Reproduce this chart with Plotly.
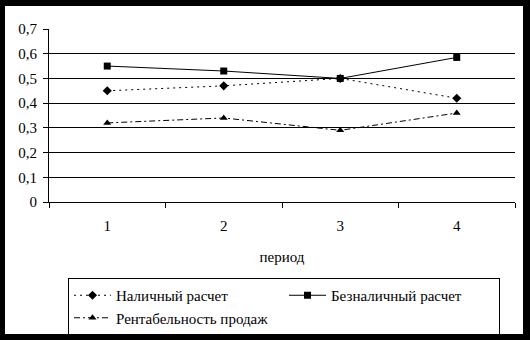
import plotly.graph_objects as go

periods = ["1", "2", "3", "4"]
cash = [0.45, 0.47, 0.50, 0.42]
noncash = [0.55, 0.53, 0.50, 0.585]
profit = [0.32, 0.34, 0.29, 0.36]
names = ["Наличный расчет", "Безналичный расчет", "Рентабельность продаж"]
ytick_vals = [0, 0.1, 0.2, 0.3, 0.4, 0.5, 0.6, 0.7]
ytick_text = ["0", "0,1", "0,2", "0,3", "0,4", "0,5", "0,6", "0,7"]
grid_vals = [0.1, 0.2, 0.3, 0.4, 0.5, 0.6]

W, H = 530, 340
L, R, T, B = 49, 15, 29, 138
pw, ph = W - L - R, H - T - B

def px_x(p):
    return (p - L) / pw

def px_y(p):
    return (H - B - p) / ph

FONT = "Liberation Serif, Times New Roman, serif"

fig = go.Figure()
fig.add_trace(go.Scatter(x=periods, y=cash, name=names[0], mode="lines+markers",
                         line=dict(color="black", width=1, dash="2px,4px"),
                         marker=dict(symbol="diamond", size=7, color="black")))
fig.add_trace(go.Scatter(x=periods, y=noncash, name=names[1], mode="lines+markers",
                         line=dict(color="black", width=1),
                         marker=dict(symbol="square", size=7, color="black")))
fig.add_trace(go.Scatter(x=periods, y=profit, name=names[2], mode="lines+markers",
                         line=dict(color="black", width=1, dash="6px,3px,2px,3px"),
                         marker=dict(symbol="triangle-up", size=7, color="black")))

fig.update_layout(
    width=W, height=H,
    margin=dict(l=L, r=R, t=T, b=B, autoexpand=False),
    paper_bgcolor="black",
    plot_bgcolor="white",
    font=dict(family=FONT, size=15, color="black"),
    showlegend=True,
    legend=dict(orientation="h", x=px_x(68), y=px_y(278), xanchor="left", yanchor="top",
                bordercolor="black", borderwidth=1, bgcolor="white",
                entrywidth=163, entrywidthmode="pixels", itemwidth=37,
                font=dict(family=FONT, size=15, color="black")),
    xaxis=dict(type="category", range=[-0.5, 3.5], tickson="boundaries", ticks="outside", ticklen=5,
               tickcolor="black", showline=True, linecolor="black", linewidth=1,
               showgrid=False, ticklabelstandoff=10,
               title=dict(text="период", standoff=18, font=dict(family=FONT, size=15))),
    yaxis=dict(range=[0, 0.7], tickvals=ytick_vals, ticktext=ytick_text, ticks="outside",
               ticklen=5, tickcolor="black", showline=True, linecolor="black", linewidth=1,
               showgrid=False, zeroline=False, ticklabelstandoff=3,
               minor=dict(tickvals=grid_vals, showgrid=True, gridcolor="black", gridwidth=1, ticks="")),
    shapes=[dict(type="rect", xref="paper", yref="paper", layer="below",
                 x0=px_x(5), x1=px_x(523), y0=px_y(334), y1=px_y(6),
                 fillcolor="white", line=dict(width=0))],
)

fig.write_html("out.html")
